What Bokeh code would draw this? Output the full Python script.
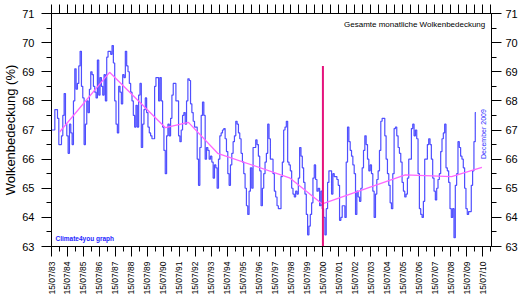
import math
from bokeh.plotting import figure
from bokeh.models import LinearAxis, FixedTicker, CustomJSTickFormatter, Label, Range1d
from bokeh.embed import file_html
from bokeh.resources import INLINE

# ---------------- data ----------------
START_YEAR = 1983          # first monthly value: July 1983 (plotted at mid-month)
START_MONTH = 7
cloud_cover = [
    67.0, 67.0, 67.0, 67.7, 67.7, 67.4, 66.5, 66.5, 66.8, 67.5, 68.25, 67.2,
    66.8, 66.2, 67.2, 66.9, 66.5, 68.0, 69.1, 68.4, 68.6, 69.2, 69.7, 68.5,
    68.1, 66.5, 67.2, 68.0, 67.6, 68.4, 69.0, 68.9, 68.5, 68.3, 68.1, 69.4,
    68.2, 68.8, 68.5, 68.2, 68.9, 68.0, 69.5, 69.7, 69.7, 69.6, 69.9, 69.3,
    68.0, 67.2, 66.9, 68.5, 68.3, 67.9, 68.9, 68.8, 69.7, 69.2, 69.0, 68.6,
    68.3, 68.0, 67.5, 67.1, 67.85, 67.1, 68.2, 68.6, 66.4, 67.2, 67.7, 68.1,
    67.6, 67.1, 66.9, 66.8, 66.7, 66.7, 68.5, 68.8, 68.8, 68.0, 68.8, 68.0,
    67.1, 66.3, 65.5, 66.8, 67.2, 66.8, 67.4, 68.2, 68.6, 68.6, 68.0, 68.0,
    66.8, 66.6, 67.0, 67.5, 67.6, 67.2, 68.0, 68.76, 68.7, 67.9, 67.6, 67.3,
    67.1, 67.1, 66.0, 65.1, 66.4, 67.5, 67.96, 67.5, 66.0, 66.4, 66.3, 66.0,
    66.1, 65.9, 65.35, 65.8, 65.7, 65.0, 66.0, 66.8, 66.9, 67.0, 67.05, 66.7,
    66.26, 65.5, 65.1, 65.8, 66.2, 66.6, 66.8, 67.3, 67.2, 66.9, 66.7, 66.2,
    65.9, 65.5, 65.0, 64.4, 64.1, 64.9, 65.7, 65.0, 66.4, 66.4, 66.66, 66.5,
    66.1, 65.6, 64.4, 65.0, 65.5, 65.9, 66.2, 67.2, 66.7, 66.0, 66.0, 65.5,
    64.9, 64.7, 64.4, 64.3, 64.3, 65.4, 65.9, 67.0, 67.1, 67.3, 65.9, 65.8,
    65.6, 65.0, 64.8, 64.7, 64.9, 64.8, 65.35, 66.4, 66.1, 65.7, 65.2, 64.8,
    64.1, 63.4, 63.7, 64.1, 64.5, 65.35, 65.8, 65.3, 64.9, 65.0, 64.4, 64.9,
    64.3, 64.0, 63.4, 64.3, 65.2, 65.6, 65.6, 64.8, 65.5, 65.4, 65.4, 65.3,
    65.1, 63.9, 64.0, 64.4, 64.4, 64.0, 65.9, 67.1, 66.6, 66.3, 66.1, 65.8,
    65.5, 64.1, 64.9, 64.7, 64.55, 65.0, 65.7, 66.3, 66.8, 66.5, 66.0, 65.6,
    65.8, 65.5, 64.9, 64.0, 64.8, 65.3, 65.6, 66.3, 67.3, 67.4, 67.4, 66.8,
    66.0, 65.5, 65.1, 64.5, 64.3, 65.5, 67.05, 67.1, 66.8, 66.4, 66.2, 65.9,
    65.2, 64.9, 64.7, 64.8, 65.35, 66.0, 66.0, 67.05, 67.2, 66.8, 67.0, 66.7,
    65.5, 64.3, 64.1, 64.0, 64.55, 66.0, 66.0, 66.5, 66.7, 66.5, 66.0, 65.35,
    64.9, 64.6, 65.0, 65.3, 65.5, 66.26, 66.7, 66.9, 67.2, 65.7, 65.6, 65.2,
    64.3, 64.0, 64.3, 63.3, 65.1, 65.5, 66.6, 66.4, 66.1, 66.0, 65.7, 65.0,
    64.3, 64.1, 64.2, 64.2, 65.1, 65.6, 66.6, 67.6,
]
trend_years = [1984.05, 1987.18, 1990.68, 1992.12, 1993.95, 1998.45, 2000.5, 2005.7, 2008.6, 2010.5]
trend_values = [66.93, 68.98, 67.08, 67.26, 66.2, 65.36, 64.46, 65.46, 65.40, 65.72]
marker_year = [2000]        # vertical marker at 15/07/00
marker_bottom = [63.0]
marker_top = [69.2]
tick_years = list(range(1983, 2011))   # labels 15/07/yy
y_ticks = list(range(63, 72))
y_minor = [v + 0.5 for v in range(63, 71)]
title_text = "Gesamte monatliche Wolkenbedeckung"
ylabel_text = "Wolkenbedeckung (%)"
credit_text = "Climate4you graph"
date_text = "December 2009"

# ---------------- helpers ----------------
ORIGIN = START_YEAR + (START_MONTH - 1 + 0.5) / 12.0   # 15/07/83 in decimal years


def to_month(year_dec):
    return (year_dec - ORIGIN) * 12.0


FONT = "Liberation Sans"

months = list(range(len(cloud_cover)))
trend_x = [to_month(y) for y in trend_years]
marker_x = [(y - START_YEAR) * 12 for y in marker_year]

p = figure(width=520, height=297, output_backend="svg", toolbar_location=None,
           x_range=Range1d(0, 330.7), y_range=Range1d(63, 71),
           min_border_left=45, min_border_right=28, min_border_top=13, min_border_bottom=50,
           x_axis_location=None, y_axis_location=None)
p.grid.visible = False
p.outline_line_color = "black"
p.outline_line_width = 1
p.background_fill_color = "white"
p.border_fill_color = "white"

major_x = [(y - START_YEAR) * 12 for y in tick_years]
minor_x = [m + 6 for m in major_x]
x_ticker = FixedTicker(ticks=major_x, minor_ticks=minor_x)
top_ticker = FixedTicker(ticks=[], minor_ticks=sorted(major_x + minor_x))
y_ticker = FixedTicker(ticks=y_ticks, minor_ticks=y_minor)


def style(ax):
    ax.axis_line_color = "black"
    ax.major_tick_line_color = "black"
    ax.minor_tick_line_color = "black"
    ax.major_tick_out = 10
    ax.major_tick_in = 0
    ax.minor_tick_out = 5
    ax.minor_tick_in = 0
    ax.major_label_text_font = FONT
    ax.major_label_text_color = "black"


bottom = LinearAxis(ticker=x_ticker)
style(bottom)
bottom.formatter = CustomJSTickFormatter(code="""
const y = (83 + Math.round(tick / 12)) % 100;
return '15/07/' + (y < 10 ? '0' + y : '' + y);
""")
bottom.major_label_orientation = math.pi / 2
bottom.major_label_text_font_size = "8.5px"
bottom.major_label_standoff = 5
p.add_layout(bottom, "below")

# top axis: tick marks only (no labels) -> drawn as minor ticks of a label-less ticker
top = LinearAxis(ticker=top_ticker)
style(top)
top.minor_tick_out = 9
top.major_label_standoff = 0
p.add_layout(top, "above")

left = LinearAxis(ticker=y_ticker, axis_label=ylabel_text)
style(left)
left.major_label_text_font_size = "11px"
left.major_label_standoff = 7
left.axis_label_text_font = FONT
left.axis_label_text_font_size = "13px"
left.axis_label_text_font_style = "normal"
left.axis_label_text_color = "black"
left.axis_label_standoff = 1
p.add_layout(left, "left")

right = LinearAxis(ticker=y_ticker)
style(right)
right.major_label_text_font_size = "11px"
right.major_label_standoff = 4
p.add_layout(right, "right")

# monthly values as stepped line
p.step(months, cloud_cover, mode="center", line_color="#4F4FFF", line_width=1.2)

# trend
p.line(trend_x, trend_values, line_color="#FF66FF", line_width=1.3)

# vertical marker
p.segment(x0=marker_x, y0=marker_bottom, x1=marker_x, y1=marker_top,
          line_color="#E5137C", line_width=2)

# texts
p.add_layout(Label(x=to_month(2010.71), y=70.63, text=title_text, text_align="right",
                   text_baseline="middle", text_font=FONT, text_font_size="8px", text_color="black"))
p.add_layout(Label(x=to_month(1983.79), y=63.28, text=credit_text, text_align="left",
                   text_baseline="middle", text_font=FONT, text_font_size="6.5px",
                   text_font_style="bold", text_color="#1E1EFF"))
p.add_layout(Label(x=to_month(2010.59), y=66.86, text=date_text, text_align="center",
                   text_baseline="middle", angle=math.pi / 2, text_font=FONT, text_font_size="7px",
                   text_color="#2A2AFF"))

open("out.html", "w").write(file_html(p, INLINE))
